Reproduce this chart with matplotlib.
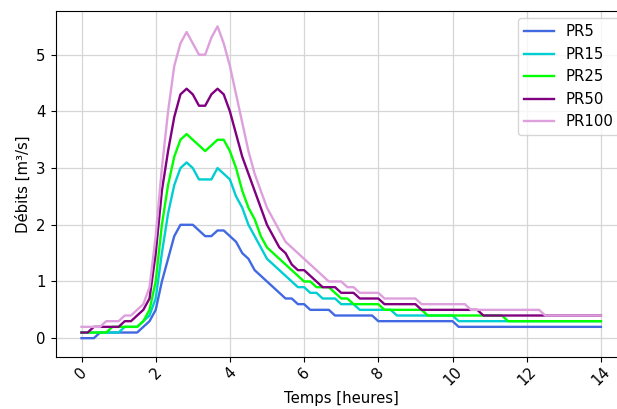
import numpy as np
import matplotlib
matplotlib.use("Agg")
import matplotlib.pyplot as plt

# time axis: one value every 10 minutes, 0 -> 14 h
n_steps = 85
hours = [i / 6 for i in range(n_steps)]

pr5 = [0.0, 0.0, 0.0, 0.1, 0.1, 0.1,
       0.1, 0.1, 0.1, 0.1, 0.2, 0.3,
       0.5, 1.0, 1.4, 1.8, 2.0, 2.0,
       2.0, 1.9, 1.8, 1.8, 1.9, 1.9,
       1.8, 1.7, 1.5, 1.4, 1.2, 1.1,
       1.0, 0.9, 0.8, 0.7, 0.7, 0.6,
       0.6, 0.5, 0.5, 0.5, 0.5, 0.4,
       0.4, 0.4, 0.4, 0.4, 0.4, 0.4,
       0.3, 0.3, 0.3, 0.3, 0.3, 0.3,
       0.3, 0.3, 0.3, 0.3, 0.3, 0.3,
       0.3, 0.2, 0.2, 0.2, 0.2, 0.2,
       0.2, 0.2, 0.2, 0.2, 0.2, 0.2,
       0.2, 0.2, 0.2, 0.2, 0.2, 0.2,
       0.2, 0.2, 0.2, 0.2, 0.2, 0.2,
       0.2]

pr15 = [0.1, 0.1, 0.1, 0.1, 0.1, 0.1,
        0.1, 0.2, 0.2, 0.2, 0.3, 0.4,
        0.7, 1.5, 2.2, 2.7, 3.0, 3.1,
        3.0, 2.8, 2.8, 2.8, 3.0, 2.9,
        2.8, 2.5, 2.3, 2.0, 1.8, 1.6,
        1.4, 1.3, 1.2, 1.1, 1.0, 0.9,
        0.9, 0.8, 0.8, 0.7, 0.7, 0.7,
        0.6, 0.6, 0.6, 0.5, 0.5, 0.5,
        0.5, 0.5, 0.5, 0.4, 0.4, 0.4,
        0.4, 0.4, 0.4, 0.4, 0.4, 0.4,
        0.4, 0.3, 0.3, 0.3, 0.3, 0.3,
        0.3, 0.3, 0.3, 0.3, 0.3, 0.3,
        0.3, 0.3, 0.3, 0.3, 0.3, 0.3,
        0.3, 0.3, 0.3, 0.3, 0.3, 0.3,
        0.3]

pr25 = [0.1, 0.1, 0.1, 0.1, 0.1, 0.2,
        0.2, 0.2, 0.2, 0.2, 0.3, 0.5,
        1.0, 2.0, 2.7, 3.2, 3.5, 3.6,
        3.5, 3.4, 3.3, 3.4, 3.5, 3.5,
        3.3, 3.0, 2.6, 2.3, 2.1, 1.8,
        1.6, 1.5, 1.4, 1.3, 1.2, 1.1,
        1.0, 1.0, 0.9, 0.9, 0.9, 0.8,
        0.7, 0.7, 0.6, 0.6, 0.6, 0.6,
        0.6, 0.5, 0.5, 0.5, 0.5, 0.5,
        0.5, 0.5, 0.4, 0.4, 0.4, 0.4,
        0.4, 0.4, 0.4, 0.4, 0.4, 0.4,
        0.4, 0.4, 0.4, 0.3, 0.3, 0.3,
        0.3, 0.3, 0.3, 0.3, 0.3, 0.3,
        0.3, 0.3, 0.3, 0.3, 0.3, 0.3,
        0.3]

pr50 = [0.1, 0.1, 0.2, 0.2, 0.2, 0.2,
        0.2, 0.3, 0.3, 0.4, 0.5, 0.7,
        1.5, 2.6, 3.3, 3.9, 4.3, 4.4,
        4.3, 4.1, 4.1, 4.3, 4.4, 4.3,
        4.0, 3.6, 3.2, 2.9, 2.6, 2.3,
        2.0, 1.8, 1.6, 1.5, 1.3, 1.2,
        1.2, 1.1, 1.0, 0.9, 0.9, 0.9,
        0.8, 0.8, 0.8, 0.7, 0.7, 0.7,
        0.7, 0.6, 0.6, 0.6, 0.6, 0.6,
        0.6, 0.5, 0.5, 0.5, 0.5, 0.5,
        0.5, 0.5, 0.5, 0.5, 0.5, 0.4,
        0.4, 0.4, 0.4, 0.4, 0.4, 0.4,
        0.4, 0.4, 0.4, 0.4, 0.4, 0.4,
        0.4, 0.4, 0.4, 0.4, 0.4, 0.4,
        0.4]

pr100 = [0.2, 0.2, 0.2, 0.2, 0.3, 0.3,
         0.3, 0.4, 0.4, 0.5, 0.6, 0.9,
         1.8, 3.0, 4.0, 4.8, 5.2, 5.4,
         5.2, 5.0, 5.0, 5.3, 5.5, 5.2,
         4.8, 4.3, 3.8, 3.3, 2.9, 2.6,
         2.3, 2.1, 1.9, 1.7, 1.6, 1.5,
         1.4, 1.3, 1.2, 1.1, 1.0, 1.0,
         1.0, 0.9, 0.9, 0.8, 0.8, 0.8,
         0.8, 0.7, 0.7, 0.7, 0.7, 0.7,
         0.7, 0.6, 0.6, 0.6, 0.6, 0.6,
         0.6, 0.6, 0.6, 0.5, 0.5, 0.5,
         0.5, 0.5, 0.5, 0.5, 0.5, 0.5,
         0.5, 0.5, 0.5, 0.4, 0.4, 0.4,
         0.4, 0.4, 0.4, 0.4, 0.4, 0.4,
         0.4]

series = [
    ("PR5", pr5, "royalblue"),
    ("PR15", pr15, "darkturquoise"),
    ("PR25", pr25, "lime"),
    ("PR50", pr50, "purple"),
    ("PR100", pr100, "plum"),
]

plt.rcParams["font.size"] = 10.7

fig = plt.figure(figsize=(6.17, 4.09), dpi=100)
ax = fig.add_axes([0.090, 0.126, 0.926, 0.847])

for label, values, color in series:
    ax.plot(hours, values, color=color, linewidth=1.7, label=label)

ax.set_xlim(-0.7, 14.7)
ax.set_ylim(-0.34, 5.77)
ax.set_xticks(range(0, 15, 2))
ax.set_yticks(range(0, 6))
ax.tick_params(axis="x", labelrotation=45, pad=1.5)
ax.set_xlabel("Temps [heures]", labelpad=1.5)
ax.set_ylabel("Débits [m³/s]")
ax.grid(True, color="#d6d6d6", linewidth=0.9)
ax.set_axisbelow(True)
ax.legend(loc="upper right", fontsize=10.7)

fig.savefig("out.png", dpi=100)
